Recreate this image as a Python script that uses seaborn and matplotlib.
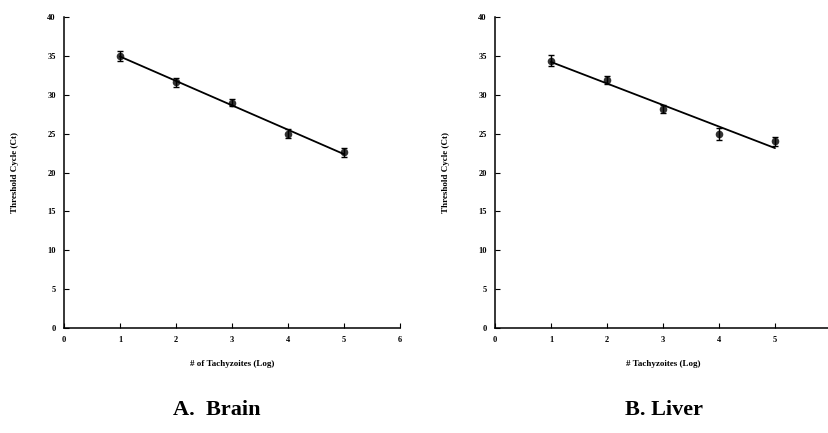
import numpy as np
import pandas as pd
import seaborn as sns
import matplotlib
matplotlib.use("Agg")
import matplotlib.pyplot as plt

# log number of tachyzoites vs threshold cycle
log_tachy = [1, 2, 3, 4, 5]
brain_ct = [35.0, 31.6, 29.0, 25.0, 22.6]
brain_err = [0.6, 0.6, 0.5, 0.6, 0.6]
liver_ct = [34.4, 31.85, 28.2, 24.95, 24.0]
liver_err = [0.7, 0.5, 0.5, 0.8, 0.6]

x_ticks = [0, 1, 2, 3, 4, 5, 6]
y_ticks = [0, 5, 10, 15, 20, 25, 30, 35, 40]

sns.set_style("ticks")
plt.rcParams['font.family'] = ['Liberation Serif', 'DejaVu Serif']
plt.rcParams['font.weight'] = 'bold'
for k in ['text.color', 'axes.labelcolor', 'axes.edgecolor', 'xtick.color', 'ytick.color']:
    plt.rcParams[k] = 'black'

fig = plt.figure(figsize=(8.29, 4.33), dpi=100)
ax1 = fig.add_axes([0.0772, 0.2425, 0.4053, 0.7182])
ax2 = fig.add_axes([0.5971, 0.2425, 0.4053, 0.7182])

panels = [
    (ax1, brain_ct, brain_err, "# of Tachyzoites (Log)"),
    (ax2, liver_ct, liver_err, "# Tachyzoites (Log)"),
]

for ax, ct, err, xlab in panels:
    df = pd.DataFrame({"x": log_tachy, "ct": ct})
    sns.regplot(data=df, x="x", y="ct", ax=ax, ci=None, color="black",
                scatter_kws={"s": 30, "zorder": 3, "linewidths": 0},
                line_kws={"lw": 1.3})
    ax.errorbar(log_tachy, ct, yerr=err, fmt="none", ecolor="black",
                elinewidth=1, capsize=2, capthick=1, zorder=3)
    ax.set_xlim(0, 6)
    ax.set_ylim(0, 40)
    ax.set_xticks(x_ticks)
    ax.set_yticks(y_ticks)
    ax.tick_params(direction="in", length=3.5, width=0.8, labelsize=6, pad=6)
    for lab in ax.get_xticklabels() + ax.get_yticklabels():
        lab.set_fontweight("bold")
    ax.set_xlabel(xlab, fontsize=6.5, fontweight="bold", labelpad=11)
    ax.set_ylabel("Threshold Cycle (Ct)", fontsize=6.5, fontweight="bold", labelpad=20)
    sns.despine(ax=ax)
    for s in ["left", "bottom"]:
        ax.spines[s].set_linewidth(1.1)

fig.text(0.262, 0.052, "A.  Brain", fontsize=16, fontweight="bold",
         ha="center", va="center")
fig.text(0.801, 0.052, "B. Liver", fontsize=16, fontweight="bold",
         ha="center", va="center")

fig.savefig("out.png", dpi=100)
